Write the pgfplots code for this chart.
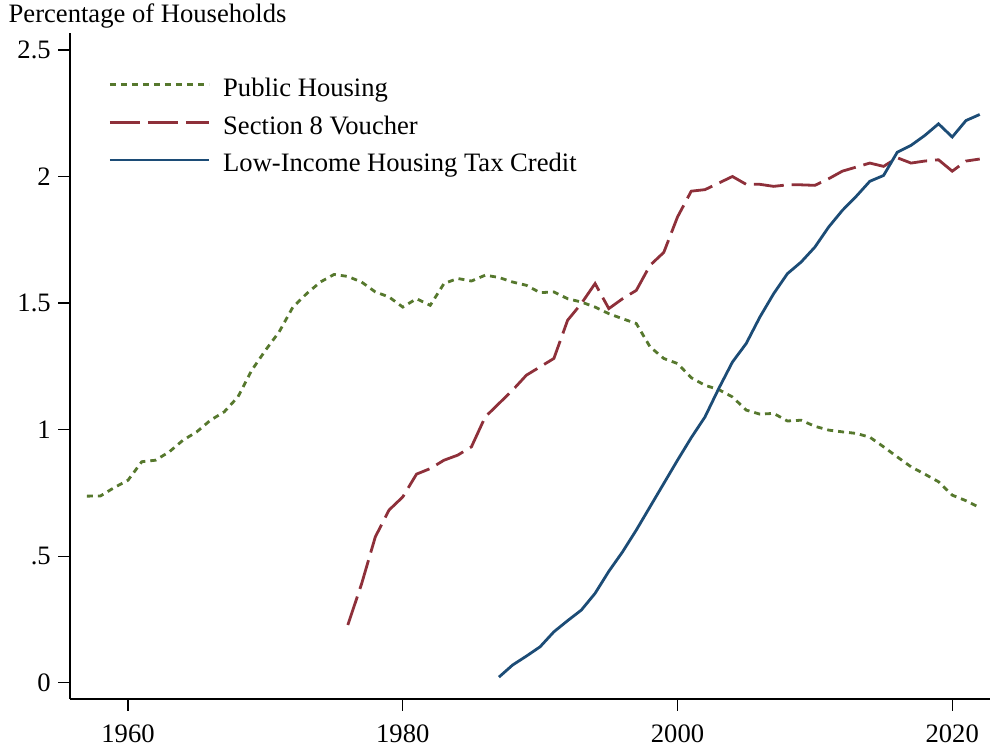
\documentclass[border=0pt]{standalone}
\usepackage{pgfplots}
\pgfplotsset{compat=1.18}
\usetikzlibrary{calc}
\usepackage{fontspec}
\setmainfont{Liberation Serif}
\definecolor{phgreen}{RGB}{86,120,45}
\definecolor{s8red}{RGB}{142,48,58}
\definecolor{lihtcblue}{RGB}{28,76,118}
\begin{document}
\fontsize{13.3pt}{16pt}\selectfont
\begin{tikzpicture}
\begin{axis}[
  name=ax,
  scale only axis,
  width=460pt, height=333pt,
  xmin=1955.775, xmax=2022.75,
  ymin=-0.0644, ymax=2.567,
  axis x line*=bottom, axis y line*=left,
  axis line style={-, line width=0.6pt},
  tick align=outside,
  major tick length=6pt,
  tick style={line width=0.6pt, black},
  xtick={1960,1980,2000,2020},
  xticklabels={1960,1980,2000,2020},
  xticklabel style={yshift=-2.5pt},
  ytick={0,0.5,1,1.5,2,2.5},
  yticklabels={0,.5,1,1.5,2,2.5},
  yticklabel style={xshift=1pt},
  legend style={draw=none, fill=none, at={(0,1)}, anchor=north west,
    xshift=16pt, yshift=-17.6pt,
    cells={anchor=west},
    nodes={inner sep=2pt, text depth=0.25em, text height=0.75em},
    row sep=1.5pt, column sep=4.5pt},
  legend image code/.code={\draw[#1] (0pt,2.5pt) -- (49.5pt,2.5pt);},
  clip=false,
]
\addplot[phgreen, line width=1.4pt, dash pattern=on 3pt off 2.5pt] coordinates {
(1957,0.737) (1958,0.738) (1959,0.771) (1960,0.800) (1961,0.873) (1962,0.879)
(1963,0.912) (1964,0.958) (1965,0.991) (1966,1.037) (1967,1.070) (1968,1.129)
(1969,1.234) (1970,1.313) (1971,1.386) (1972,1.484) (1973,1.537) (1974,1.583)
(1975,1.613) (1976,1.605) (1977,1.583) (1978,1.544) (1979,1.524) (1980,1.484)
(1981,1.517) (1982,1.491) (1983,1.577) (1984,1.597) (1985,1.587) (1986,1.610)
(1987,1.601) (1988,1.583) (1989,1.570) (1990,1.541) (1991,1.544) (1992,1.517)
(1993,1.504) (1994,1.484) (1995,1.458) (1996,1.438) (1997,1.419) (1998,1.327)
(1999,1.281) (2000,1.261) (2001,1.205) (2002,1.175) (2003,1.158) (2004,1.129)
(2005,1.077) (2006,1.061) (2007,1.064) (2008,1.034) (2009,1.037) (2010,1.013)
(2011,0.998) (2012,0.991) (2013,0.985) (2014,0.970) (2015,0.932) (2016,0.892)
(2017,0.853) (2018,0.824) (2019,0.794) (2020,0.741) (2021,0.719) (2022,0.692)
};
\addlegendentry{Public Housing}
\addplot[s8red, line width=1.4pt, dash pattern=on 15pt off 4pt] coordinates {
(1976,0.228) (1977,0.390) (1978,0.576) (1979,0.682) (1980,0.734) (1981,0.824)
(1982,0.846) (1983,0.879) (1984,0.899) (1985,0.932) (1986,1.050) (1987,1.103)
(1988,1.156) (1989,1.215) (1990,1.248) (1991,1.281) (1992,1.432) (1993,1.498)
(1994,1.577) (1995,1.478) (1996,1.517) (1997,1.550) (1998,1.649) (1999,1.700)
(2000,1.840) (2001,1.942) (2002,1.948) (2003,1.974) (2004,2.000) (2005,1.969)
(2006,1.969) (2007,1.961) (2008,1.967) (2009,1.967) (2010,1.965) (2011,1.991)
(2012,2.021) (2013,2.037) (2014,2.053) (2015,2.040) (2016,2.074) (2017,2.053)
(2018,2.061) (2019,2.066) (2020,2.021) (2021,2.061) (2022,2.069)
};
\addlegendentry{Section 8 Voucher}
\addplot[lihtcblue, line width=1.4pt] coordinates {
(1987,0.022) (1988,0.070) (1989,0.105) (1990,0.142) (1991,0.201) (1992,0.245)
(1993,0.287) (1994,0.353) (1995,0.440) (1996,0.517) (1997,0.603) (1998,0.695)
(1999,0.787) (2000,0.879) (2001,0.968) (2002,1.050) (2003,1.162) (2004,1.267)
(2005,1.340) (2006,1.445) (2007,1.537) (2008,1.616) (2009,1.662) (2010,1.721)
(2011,1.800) (2012,1.866) (2013,1.921) (2014,1.981) (2015,2.004) (2016,2.096)
(2017,2.123) (2018,2.162) (2019,2.208) (2020,2.156) (2021,2.221) (2022,2.245)
};
\addlegendentry{Low-Income Housing Tax Credit}
\end{axis}
\node[anchor=base west, inner sep=0pt] at ($(ax.south west)+(-30.85pt,338.15pt)$) {Percentage of Households};
\pgfresetboundingbox
\path[use as bounding box] ($(ax.south west)+(-35pt,-24pt)$) rectangle ($(ax.south west)+(460pt,349.5pt)$);
\end{tikzpicture}
\end{document}
